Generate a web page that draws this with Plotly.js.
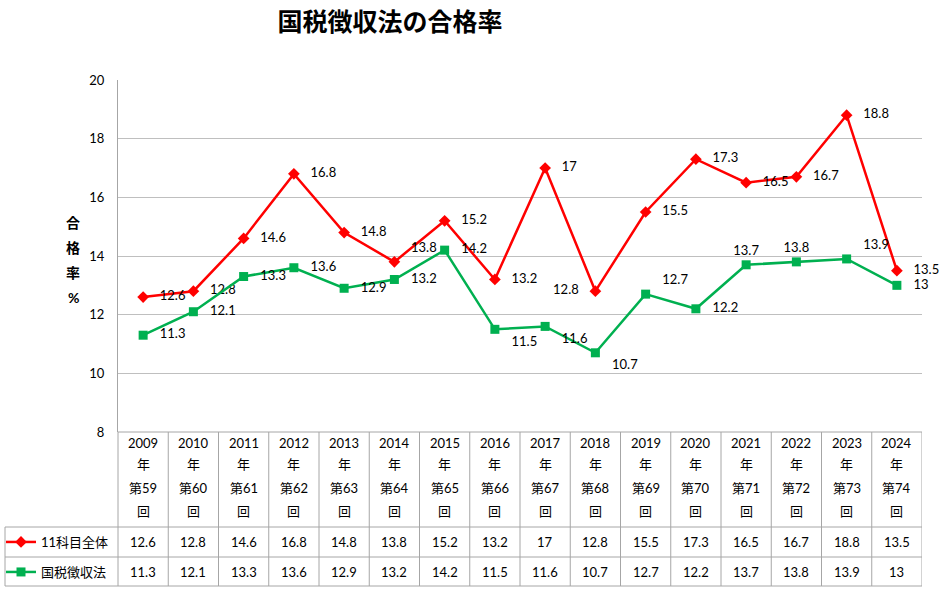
<!DOCTYPE html>
<html><head><meta charset="utf-8">
<script src="https://cdn.plot.ly/plotly-3.0.1.min.js"></script>
<style>html,body{margin:0;padding:0;background:#fff}</style>
</head><body>
<div id="chart" style="width:944px;height:590px"></div>
<script>
const years = ['2009','2010','2011','2012','2013','2014','2015','2016','2017','2018','2019','2020','2021','2022','2023','2024'];
const rounds = ['第59','第60','第61','第62','第63','第64','第65','第66','第67','第68','第69','第70','第71','第72','第73','第74'];
const seriesAllName = '11科目全体';
const seriesKokuzeiName = '国税徴収法';
const allSubjects = [12.6,12.8,14.6,16.8,14.8,13.8,15.2,13.2,17,12.8,15.5,17.3,16.5,16.7,18.8,13.5];
const kokuzei = [11.3,12.1,13.3,13.6,12.9,13.2,14.2,11.5,11.6,10.7,12.7,12.2,13.7,13.8,13.9,13];
const yTitleChars = ['合','格','率','%'];

const FONT = "Lato, 'Noto Sans CJK JP', sans-serif";
const W = 944, H = 590, L = 118, R = 922, T = 80, B = 432;
const pw = R - L, ph = B - T;
const px2x = p => (p - L) / pw;
const py2y = p => (B - p) / ph;
const GRID = '#a6a6a6';
const SP = '\u00a0\u00a0\u00a0';

const redPos = allSubjects.map((v,i) => i === 9 ? 'middle left' : (i === 5 ? 'top right' : 'middle right'));
const greenPosMap = {7:'bottom right',8:'bottom right',9:'bottom right',10:'top right',12:'top center',13:'top center',14:'top right'};
const greenPos = kokuzei.map((v,i) => greenPosMap[i] || 'middle right');
const lab = (v,pos) => pos.endsWith('right') ? SP + v : (pos.endsWith('left') ? v + SP : String(v));

const traces = [
  {x: years, y: allSubjects, name: seriesAllName, type: 'scatter', mode: 'lines+markers+text',
   line: {color: '#ff0000', width: 2.5}, marker: {symbol: 'diamond', size: 9, color: '#ff0000'},
   text: allSubjects.map((v,i) => lab(v, redPos[i])), textposition: redPos, textfont: {size: 13, color: '#000', family: FONT},
   legend: 'legend', cliponaxis: false},
  {x: years, y: kokuzei, name: seriesKokuzeiName, type: 'scatter', mode: 'lines+markers+text',
   line: {color: '#00b050', width: 2.5}, marker: {symbol: 'square', size: 9, color: '#00b050'},
   text: kokuzei.map((v,i) => lab(v, greenPos[i])), textposition: greenPos, textfont: {size: 13, color: '#000', family: FONT},
   legend: 'legend2', cliponaxis: false}
];

const shapes = [];
const hline = (yp, x0p, x1p) => shapes.push({type:'line', xref:'paper', yref:'paper', x0:px2x(x0p), x1:px2x(x1p), y0:py2y(yp), y1:py2y(yp), line:{color:GRID, width:1}});
const vlinePx = (xp, y0p, y1p) => shapes.push({type:'line', xref:'paper', yref:'paper', x0:px2x(xp), x1:px2x(xp), y0:py2y(y0p), y1:py2y(y1p), line:{color:GRID, width:1}});
hline(432, 118, 922);
hline(527, 5, 922);
hline(557, 5, 922);
hline(586, 5, 922);
vlinePx(5, 527, 586);
vlinePx(118, 432, 586);
for (let i = 0; i < years.length; i++) {
  shapes.push({type:'line', xref:'x', yref:'paper', x0:i+0.5, x1:i+0.5, y0:py2y(432), y1:py2y(586), line:{color:GRID, width:1}});
}

const annotations = [];
const cell = (i, yp, txt) => annotations.push({xref:'x', yref:'paper', x:i, y:py2y(yp), text:txt, showarrow:false, xanchor:'center', yanchor:'middle', font:{size:13, color:'#000', family:FONT}});
years.forEach((y,i) => {
  cell(i, 443, y);
  cell(i, 464, '年');
  cell(i, 488, rounds[i]);
  cell(i, 511, '回');
  cell(i, 542, String(allSubjects[i]));
  cell(i, 572, String(kokuzei[i]));
});
yTitleChars.forEach((c,k) => annotations.push({xref:'paper', yref:'paper', x:px2x(73), y:py2y(222 + k*25), text:'<b>'+c+'</b>', showarrow:false, xanchor:'center', yanchor:'middle', font:{size:14, color:'#000', family:FONT}}));

const layout = {
  width: W, height: H,
  margin: {l: L, r: W - R, t: T, b: H - B, autoexpand: false},
  paper_bgcolor: '#fff', plot_bgcolor: '#fff',
  font: {family: FONT, size: 13, color: '#000'},
  title: {text: '<b>国税徴収法の合格率</b>', x: 390/W, xref: 'container', xanchor: 'center', y: 1 - 22/H, yanchor: 'middle', font: {size: 25, color: '#000', family: FONT}},
  xaxis: {type: 'category', range: [-0.5, 15.5], showticklabels: false, showgrid: false, zeroline: false, showline: false, fixedrange: true, automargin: false},
  yaxis: {range: [8, 20], dtick: 2, showgrid: true, gridcolor: '#bfbfbf', gridwidth: 1, zeroline: false, automargin: false,
          showline: true, linecolor: GRID, linewidth: 1, ticks: '', ticklabelstandoff: 10,
          tickfont: {size: 13, color: '#000', family: FONT}},
  showlegend: true,
  legend: {x: px2x(1), xanchor: 'left', y: py2y(542), yanchor: 'middle', bgcolor: 'rgba(0,0,0,0)', font: {size: 13, color: '#000', family: FONT}, borderwidth: 0},
  legend2: {x: px2x(1), xanchor: 'left', y: py2y(572), yanchor: 'middle', bgcolor: 'rgba(0,0,0,0)', font: {size: 13, color: '#000', family: FONT}, borderwidth: 0},
  shapes: shapes,
  annotations: annotations
};
Plotly.newPlot('chart', traces, layout, {displayModeBar: false, staticPlot: true});
</script>
</body></html>
